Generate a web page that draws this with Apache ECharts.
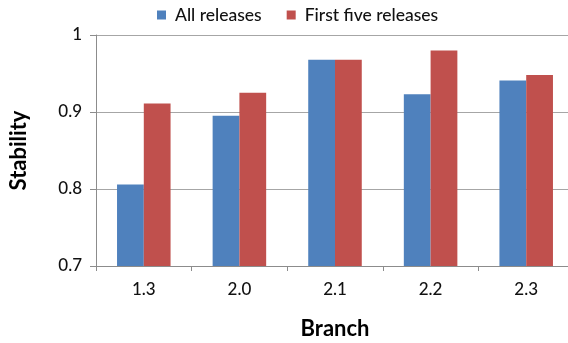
<!DOCTYPE html>
<html>
<head>
<meta charset="utf-8">
<script src="https://cdn.jsdelivr.net/npm/echarts@6/dist/echarts.min.js"></script>
<style>
  html, body { margin: 0; padding: 0; background: #fff; }
  #chart { width: 568px; height: 343px; }
</style>
</head>
<body>
<div id="chart"></div>
<script>
// Stability per branch
const branches = ['1.3', '2.0', '2.1', '2.2', '2.3'];
const allReleases = [0.806, 0.895, 0.968, 0.923, 0.941];
const firstFiveReleases = [0.911, 0.925, 0.968, 0.980, 0.948];
const yTicks = [0.7, 0.8, 0.9, 1];

const font = 'Lato, "Open Sans", sans-serif';
const chart = echarts.init(document.getElementById('chart'));

chart.setOption({
  animation: false,
  textStyle: { fontFamily: font },
  legend: {
    top: 1,
    left: 152,
    itemWidth: 9,
    itemHeight: 9,
    itemGap: 25,
    icon: 'rect',
    textStyle: { fontSize: 17.5, color: '#111', fontWeight: 500, fontFamily: font, padding: [0, 0, 0, 4] },
    data: ['All releases', 'First five releases']
  },
  grid: { left: 96, right: -6, top: 35, bottom: 77, outerBoundsMode: 'none' },
  xAxis: {
    type: 'category',
    data: branches,
    name: 'Branch',
    nameLocation: 'middle',
    nameGap: 52,
    nameTextStyle: { fontSize: 22, fontWeight: 'bold', color: '#000', fontFamily: font },
    axisLine: { lineStyle: { color: '#8c8c8c', width: 1 } },
    axisTick: { show: true, length: 5, lineStyle: { color: '#8c8c8c' } },
    axisLabel: { fontSize: 17, color: '#111', fontWeight: 500, margin: 15, fontFamily: font }
  },
  yAxis: {
    type: 'value',
    min: yTicks[0],
    max: yTicks[yTicks.length - 1],
    interval: 0.1,
    name: 'Stability',
    nameLocation: 'middle',
    nameGap: 66,
    nameTextStyle: { fontSize: 22, fontWeight: 'bold', color: '#000', fontFamily: font },
    axisLine: { show: true, lineStyle: { color: '#8c8c8c', width: 1 } },
    axisTick: { show: true, length: 6, lineStyle: { color: '#8c8c8c' } },
    axisLabel: {
      fontSize: 17, color: '#111', fontWeight: 500, margin: 14, fontFamily: font,
      formatter: v => String(Math.round(v * 10) / 10)
    },
    splitLine: { lineStyle: { color: '#a6a6a6', width: 1 } }
  },
  series: [
    {
      name: 'All releases',
      type: 'bar',
      data: allReleases,
      barGap: '0%',
      barCategoryGap: '44%',
      itemStyle: { color: '#4f81bd' }
    },
    {
      name: 'First five releases',
      type: 'bar',
      data: firstFiveReleases,
      barGap: '0%',
      barCategoryGap: '44%',
      itemStyle: { color: '#c0504d' }
    }
  ]
});
</script>
</body>
</html>
